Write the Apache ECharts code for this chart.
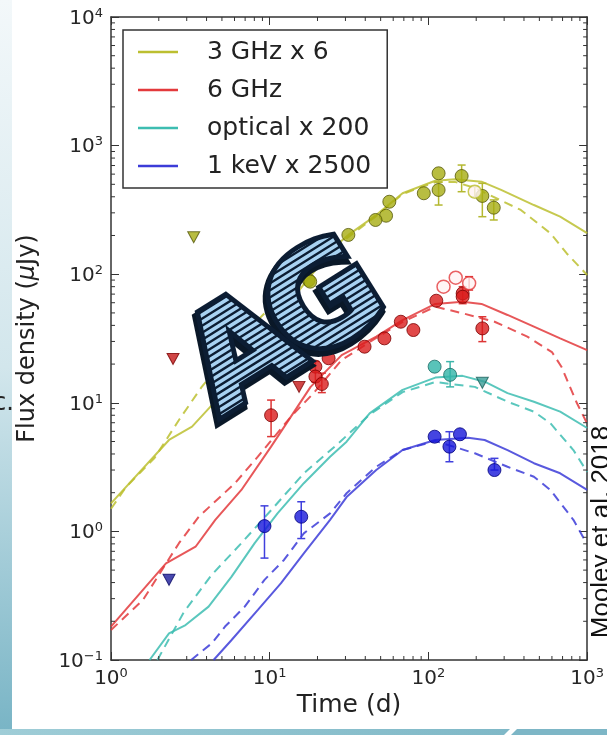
<!DOCTYPE html>
<html><head><meta charset="utf-8">
<script src="https://cdn.jsdelivr.net/npm/echarts@6/dist/echarts.min.js"></script>
<style>html,body{margin:0;padding:0;background:#fff}#c{width:607px;height:735px}</style>
</head><body><div id="c"></div>
<script>
// ---------------- data ----------------
const seriesNames = ['3 GHz x 6', '6 GHz', 'optical x 200', '1 keV x 2500'];

// model curves [time (d), flux (uJy)]
const ghz3Solid = [[1,1.65],[2.32,5.14],[3.24,6.52],[4.32,9.6],[7.0,22],[11.2,45.6],[17.2,90],[26.4,169],[31.3,202],[46.9,288],[68.7,426],[110.5,533],[147,547],[216,524],[287,452],[462,345],[676,280],[1000,209]];
const ghz3Dashed = [[1,1.5],[1.25,2.23],[1.88,3.72],[2.68,7.35],[3.73,13.3],[7.3,36.8],[14.9,90],[26.4,166],[46.9,283],[68.7,420],[110.5,520],[147,522],[196,468],[382,316],[587,208],[744,145],[1000,98.6]];
const ghz6Solid = [[1,0.182],[2.22,0.565],[3.41,0.76],[4.54,1.23],[6.63,2.10],[10.2,4.56],[18.1,13.3],[28.4,23.5],[46.9,32.7],[68.7,44.0],[110.5,58.7],[164,61.1],[216,58.7],[315,48.2],[462,39.1],[676,31.7],[1000,25.7]];
const ghz6Dashed = [[1,0.171],[1.59,0.293],[2.68,0.81],[3.57,1.30],[6.04,2.37],[8.42,3.81],[13.6,7.8],[18.9,11.9],[28.4,21.5],[46.9,32],[68.7,42.5],[110.5,55.9],[164,49.7],[261,42.7],[420,32.7],[600,24.8],[690,19.0],[860,10.0],[1000,6.9]];
const optSolid = [[1.75,0.1],[2.32,0.161],[2.95,0.187],[4.12,0.26],[5.75,0.445],[8.04,0.81],[11.2,1.38],[16.4,2.37],[24.0,3.81],[30.5,4.98],[42.6,8.28],[68.7,12.6],[110.5,15.7],[164,16.2],[226,14.6],[315,11.9],[462,10.2],[676,8.53],[1000,6.37]];
const optDashed = [[1.96,0.1],[2.88,0.236],[4.30,0.458],[6.63,0.81],[10.7,1.56],[16.4,2.83],[26.4,4.70],[42.6,8.1],[68.7,12.1],[110.5,14.5],[196,13.3],[315,10.2],[462,8.53],[587,6.93],[819,4.29],[1000,2.90]];
const xraySolid = [[4.43,0.1],[5.75,0.143],[8.42,0.245],[11.75,0.394],[16.4,0.676],[24.0,1.23],[30.5,1.85],[46.9,3.0],[68.7,4.29],[110.5,5.14],[178,5.35],[226,5.14],[315,4.29],[462,3.39],[676,2.83],[1000,2.10]];
const xrayDashed = [[3.2,0.1],[4.32,0.135],[5.23,0.182],[6.96,0.26],[9.27,0.42],[12.3,0.60],[16.4,0.966],[24.0,1.38],[30.5,1.98],[46.9,3.18],[68.7,4.29],[110.5,5.05],[196,4.05],[315,3.18],[462,2.66],[587,2.10],[819,1.23],[991,0.81]];

// measurements [time, flux]
const ghz3Points = [[115.9,609],[161.9,580],[93.5,426],[115.9,452],[56.7,366],[54.1,285],[46.4,264],[31.3,202],[218.6,406],[258,329],[16.4,111],[17.6,90],[18.0,87.5]];
const ghz3Open = [[195.9,438]];
const ghz3Upper = [[3.32,194]];
const ghz6Points = [[112.1,62.2],[164.3,71.0],[164.3,66.8],[218.6,37.9],[67.0,42.7],[80.4,36.8],[52.8,31.7],[39.6,27.3],[19.4,19.1],[19.4,16.0],[21.3,14.0],[23.5,22.2],[10.2,8.0]];
const ghz6Open = [[124.5,80.0],[148.6,93.9],[180.5,85.0]];
const ghz6Upper = [[2.46,21.9],[13.4,24.3],[15.3,13.3]];
const optPoints = [[109.4,19.1],[137,16.5]];
const optUpper = [[218.6,14.3]];
const xrayPoints = [[109.4,5.45],[135.6,4.56],[158,5.69],[260.6,3.0],[9.27,1.10],[15.8,1.30]];
const xrayUpper = [[2.32,0.42]];

// error bars [time, low, high]
const ghz3Err = [[161.9,438,706],[115.9,345,520],[218.6,280,509],[258,264,378],[195.9,400,480]];
const ghz6Err = [[218.6,29.9,46.7],[164.3,59,80],[180.5,75.3,95.7],[10.2,5.46,10.5],[21.3,12,17],[19.4,14.5,21]];
const optErr = [[137,13.3,20.9]];
const xrayErr = [[9.27,0.62,1.58],[15.8,0.88,1.70],[135.6,3.48,5.96],[260.6,3.0,3.70]];

// minor tick positions (log decades)
const minorMultipliers = [2,3,4,5,6,7,8,9];
const xDecades = [1,10,100];
const yDecades = [0.1,1,10,100,1000];

// watermark letters
const logoLetters = ['A', 'G'];

// ---------------- styling ----------------
const FONT = "'DejaVu Sans', sans-serif";
const AX = '#333';
const C = {
  y: {line:'#bcbf30', fill:'#a6ad12', edge:'#55580a'},
  r: {line:'#e33a3c', fill:'#d91c1c', edge:'#7a0000'},
  c: {line:'#3dbdb1', fill:'#2fb4a8', edge:'#1a6a64'},
  b: {line:'#3c3cd8', fill:'#1717d9', edge:'#00007a'}
};

function powLabel(v){
  const e = Math.round(Math.log10(v));
  return '{b|10}{s|' + (e < 0 ? '\u2212' + (-e) : e) + '}';
}
const tickRich = {
  b: {fontFamily: FONT, fontSize: 20, color: '#262626', lineHeight: 20, padding: [3,0,0,0]},
  s: {fontFamily: FONT, fontSize: 13, color: '#262626', lineHeight: 13, verticalAlign: 'top'}
};

function lineS(name, data, color, dashed){
  return {type:'line', name, data, symbol:'none', smooth:false, silent:true, z:2,
    lineStyle:{color, width:2, type: dashed ? [9,6] : 'solid', opacity:0.85}, itemStyle:{color}};
}
function dotS(data, col, open){
  return {type:'scatter', data, symbol:'circle', symbolSize:13, z:4, silent:true,
    itemStyle: open ? {color:'#fff3f3', borderColor:col.line, borderWidth:1.5}
                    : {color:col.fill, borderColor:col.edge, borderWidth:1}};
}
function triS(data, col){
  return {type:'scatter', data, symbol:'triangle', symbolRotate:180, symbolSize:[12,11], z:4, silent:true,
    itemStyle:{color:col.fill, borderColor:col.edge, borderWidth:1}};
}
function errS(data, color){
  return {type:'custom', data, encode:{x:0, y:[1,2]}, z:3, silent:true, clip:false,
    renderItem:function(params, api){
      const x = api.value(0);
      const a = api.coord([x, api.value(1)]);
      const b = api.coord([x, api.value(2)]);
      const c = 4, st = {stroke:color, lineWidth:1.5};
      return {type:'group', children:[
        {type:'line', shape:{x1:a[0],y1:a[1],x2:b[0],y2:b[1]}, style:st},
        {type:'line', shape:{x1:a[0]-c,y1:a[1],x2:a[0]+c,y2:a[1]}, style:st},
        {type:'line', shape:{x1:b[0]-c,y1:b[1],x2:b[0]+c,y2:b[1]}, style:st}
      ]};
    }};
}

const minorTickData = [];
xDecades.forEach(d => minorMultipliers.forEach(m => minorTickData.push([d*m, 1, 0])));
yDecades.forEach(d => minorMultipliers.forEach(m => minorTickData.push([1, d*m, 1])));

const minorTicks = {type:'custom', data:minorTickData, encode:{x:0, y:1}, z:5, silent:true, clip:false,
  renderItem:function(params, api){
    const cs = params.coordSys, L = 4, st = {stroke:AX, lineWidth:1};
    if (api.value(2) === 0){
      const x = api.coord([api.value(0), 1])[0];
      return {type:'group', children:[
        {type:'line', shape:{x1:x,y1:cs.y+cs.height,x2:x,y2:cs.y+cs.height-L}, style:st},
        {type:'line', shape:{x1:x,y1:cs.y,x2:x,y2:cs.y+L}, style:st}]};
    }
    const y = api.coord([1, api.value(1)])[1];
    return {type:'group', children:[
      {type:'line', shape:{x1:cs.x,y1:y,x2:cs.x+L,y2:y}, style:st},
      {type:'line', shape:{x1:cs.x+cs.width,y1:y,x2:cs.x+cs.width-L,y2:y}, style:st}]};
  }};

const axisLineS = {show:true, lineStyle:{color:AX, width:1.5}};
const majorTick = {show:true, inside:true, length:8, lineStyle:{color:AX, width:1}};

const chart = echarts.init(document.getElementById('c'), null, {renderer:'canvas'});
chart.setOption({
  animation:false,
  backgroundColor:'#ffffff',
  grid:{left:111, right:13, top:17, bottom:75, containLabel:false},
  xAxis:[
    {type:'log', logBase:10, min:1, max:1000, position:'bottom',
     axisLine:axisLineS, axisTick:majorTick, splitLine:{show:false},
     axisLabel:{formatter:powLabel, rich:tickRich, margin:7, showMinLabel:true, showMaxLabel:true},
     name:'Time (d)', nameLocation:'middle', nameGap:30,
     nameTextStyle:{fontFamily:FONT, fontSize:25, color:'#222'}},
    {type:'log', logBase:10, min:1, max:1000, position:'top',
     axisLine:axisLineS, axisTick:majorTick, axisLabel:{show:false}, splitLine:{show:false}}
  ],
  yAxis:[
    {type:'log', logBase:10, min:0.1, max:10000, position:'left',
     axisLine:axisLineS, axisTick:majorTick, splitLine:{show:false},
     axisLabel:{formatter:powLabel, rich:tickRich, margin:8, showMinLabel:true, showMaxLabel:true},
     name:'Flux density ({i|\u03bc}Jy)', nameLocation:'middle', nameGap:71, nameRotate:90,
     nameTextStyle:{fontFamily:FONT, fontSize:24, color:'#222',
       rich:{i:{fontFamily:FONT, fontSize:24, fontStyle:'italic', color:'#222'}}}},
    {type:'log', logBase:10, min:0.1, max:10000, position:'right',
     axisLine:axisLineS, axisTick:majorTick, axisLabel:{show:false}, splitLine:{show:false}}
  ],
  legend:{data:seriesNames, orient:'vertical', left:123, top:30, padding:[9,16,9,15],
    icon:'rect', itemGap:12, itemWidth:40, itemHeight:2.5, backgroundColor:'#fff', borderColor:'#333',
    borderWidth:1.5, borderRadius:0, selectedMode:false,
    textStyle:{fontFamily:FONT, fontSize:25, color:'#222', lineHeight:26, padding:[0,0,0,24]}},
  graphic:[
    {type:'rect', shape:{x:0,y:0,width:12,height:735}, z:-10, silent:true,
     style:{fill:new echarts.graphic.LinearGradient(0,0,0,1,[{offset:0,color:'#f3f8fa'},{offset:0.5,color:'#d2e6ec'},{offset:1,color:'#78b4c5'}])}},
    {type:'polygon', shape:{points:[[0,729],[510,729],[504,735],[0,735]]}, z:-10, silent:true,
     style:{fill:new echarts.graphic.LinearGradient(0,0,1,0,[{offset:0,color:'#9fcdd7'},{offset:1,color:'#7fb8c7'}])}},
    {type:'polygon', shape:{points:[[517,729],[607,729],[607,735],[511,735]]}, z:-10, silent:true,
     style:{fill:'#7db6c6'}},
    {type:'text', x:-7, y:404, z:10, silent:true,
     style:{text:'c.', fontFamily:FONT, fontSize:24, fill:'#222', align:'left', verticalAlign:'middle'}},
    {type:'text', x:602, y:532, rotation:Math.PI/2, z:10, silent:true,
     style:{text:'Mooley et al. 2018', fontFamily:"'Liberation Sans', Arial, sans-serif", fontSize:26, fill:'#111', align:'center', verticalAlign:'middle'}}
  ],
  series:[
    lineS(seriesNames[0], ghz3Solid, C.y.line, false),
    lineS('3 GHz model 2', ghz3Dashed, C.y.line, true),
    lineS(seriesNames[1], ghz6Solid, C.r.line, false),
    lineS('6 GHz model 2', ghz6Dashed, C.r.line, true),
    lineS(seriesNames[2], optSolid, C.c.line, false),
    lineS('optical model 2', optDashed, C.c.line, true),
    lineS(seriesNames[3], xraySolid, C.b.line, false),
    lineS('1 keV model 2', xrayDashed, C.b.line, true),
    errS(ghz3Err, '#b4b830'), errS(ghz6Err, '#dd3535'), errS(optErr, '#3db5aa'), errS(xrayErr, '#4040dd'),
    dotS(ghz3Points, C.y), dotS(ghz3Open, C.y, true), triS(ghz3Upper, C.y),
    dotS(ghz6Points, C.r), dotS(ghz6Open, C.r, true), triS(ghz6Upper, {fill:'#c41818', edge:'#7a0000'}),
    dotS(optPoints, C.c), triS(optUpper, {fill:'#3a9e97', edge:'#1a5f5a'}),
    dotS(xrayPoints, C.b), triS(xrayUpper, {fill:'#1a1a9a', edge:'#000060'}),
    minorTicks
  ]
});

// ---------------- "AG" watermark (real text, striped fill via clip) ----------------
(function(){
  const G = echarts.graphic;
  const base = {fontSize:134, fontWeight:'bold', fontFamily:'DejaVu Sans', align:'center', verticalAlign:'middle'};
  const logo = new G.Group({x:287, y:333, rotation:32*Math.PI/180});
  const offs = [-48, 48];
  const holder = new G.Group();
  logoLetters.forEach(function(ch, i){
    logo.add(new G.Text({x:offs[i]-4, y:3, z:200, style:Object.assign({text:ch}, base, {fill:'#0a1828', stroke:'#0a1828', lineWidth:12})}));
    logo.add(new G.Text({x:offs[i], y:0, z:201, style:Object.assign({text:ch}, base, {fill:'#0c1d33', stroke:'#0c1d33', lineWidth:10})}));
    holder.add(new G.Text({x:offs[i], y:0, z:202, style:Object.assign({text:ch}, base, {fill:'#a8d2f2'})}));
  });
  const rects = [];
  for (let yy = -110; yy < 110; yy += 6) rects.push(new G.Rect({shape:{x:-220, y:yy, width:440, height:3.6}}));
  holder.setClipPath(new G.CompoundPath({shape:{paths:rects}}));
  logo.add(holder);
  chart.getZr().add(logo);
})();
</script>
</body></html>
